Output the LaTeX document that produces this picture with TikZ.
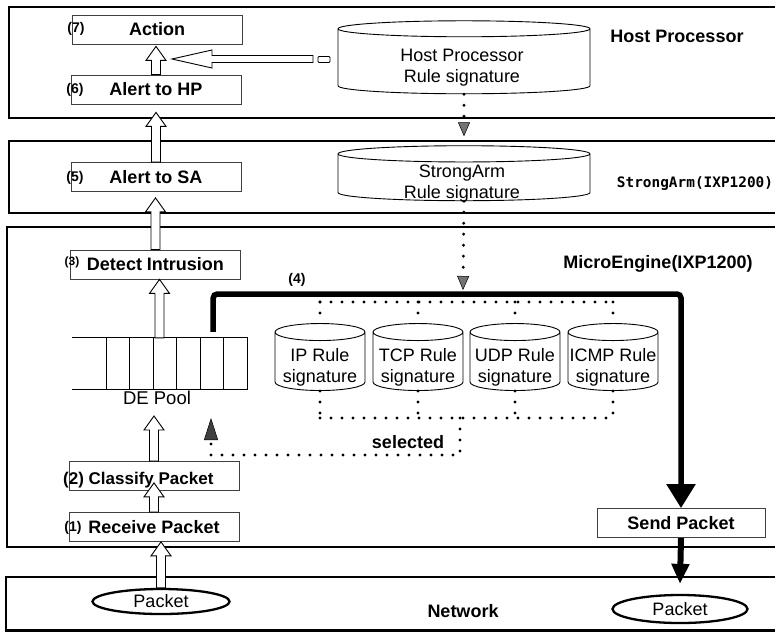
\documentclass[tikz,border=0pt]{standalone}
\usepackage{fontspec}
\setmainfont{Liberation Sans}
\newfontfamily\monob{DejaVu Sans Mono}
\usetikzlibrary{shapes.geometric,arrows.meta,calc,positioning}

% hollow block arrows
\newcommand{\hup}[2]{%
  \draw[line width=0.9pt,fill=white] let \p1=#1, \p2=#2 in
    (\x1-4.5pt,\y1) -- (\x1-4.5pt,\y2-14pt) -- (\x1-10pt,\y2-14pt) -- (\x1,\y2)
    -- (\x1+10pt,\y2-14pt) -- (\x1+4.5pt,\y2-14pt) -- (\x1+4.5pt,\y1) -- cycle;}
\newcommand{\hleft}[2]{%
  \draw[line width=0.9pt,fill=white] let \p1=#1, \p2=#2 in
    (\x1,\y1-3.5pt) -- (\x2+40pt,\y1-3.5pt) -- (\x2+40pt,\y1-9pt) -- (\x2,\y1)
    -- (\x2+40pt,\y1+9pt) -- (\x2+40pt,\y1+3.5pt) -- (\x1,\y1+3.5pt) -- cycle;}

\begin{document}
\begin{tikzpicture}[x=1pt,y=-1pt,
  panel/.style={line width=2.5pt},
  procbox/.style={draw=black!75,line width=0.8pt,minimum width=170pt,minimum height=29pt,
    inner sep=0pt,font=\fontsize{18}{18}\selectfont\bfseries},
  num/.style={inner sep=0pt,font=\fontsize{14}{14}\selectfont\bfseries},
  lbl/.style={inner sep=0pt,anchor=base,font=\fontsize{18}{18}\selectfont\bfseries},
  db/.style={cylinder,shape border rotate=90,draw,line width=0.9pt,inner sep=0pt,
    font=\fontsize{18}{21}\selectfont},
  dbtxt/.style={inner sep=0pt,align=center,font=\fontsize{18}{21}\selectfont},
  pkt/.style={ellipse,draw,line width=2.3pt,inner sep=0pt,font=\fontsize{18}{18}\selectfont},
  dotline/.style={line width=3.2pt,dash pattern=on 0pt off 11pt,line cap=round},
  dottip/.style={-{Triangle[length=14pt,width=12pt,line width=0.5pt,fill=black!55]}},
  fat/.style={line width=5.5pt,rounded corners=4pt}]
\useasboundingbox (0,0) rectangle (775,633);
\clip (0,0) rectangle (775,633);

% layers
\draw[panel] (9,7) rectangle (790,118);
\draw[panel] (9,141) rectangle (790,213);
\draw[panel] (7,227) rectangle (790,547);
\draw[panel] (6,577) rectangle (790,630.5);

\node[lbl] (hplbl) at (677,42) {Host Processor};
\node[lbl,font=\fontsize{14.4}{14}\monob\bfseries] (salbl) at (695,187) {StrongArm(IXP1200)};
\node[lbl] (melbl) at (658,268) {MicroEngine(IXP1200)};
\node[lbl] (netlbl) at (463,617) {Network};

% steps
\node[procbox] (action) at (157,29.5) {Action};
\node[num] (n7) at (76,29) {(7)};
\node[procbox] (alerthp) at (156,89.5) {Alert to HP};
\node[num] (n6) at (75,90) {(6)};
\node[procbox] (alertsa) at (156,177) {Alert to SA};
\node[num] (n5) at (75,178) {(5)};
\node[procbox] (detect) at (155.5,264.5) {Detect Intrusion};
\node[num,font=\fontsize{12}{12}\selectfont\bfseries] (n3) at (72,262) {(3)};
\node[procbox] (classify) at (154,476) {};
\node[lbl,anchor=base west,font=\fontsize{17}{17}\selectfont\bfseries] (clstxt) at (63,484) {(2) Classify Packet};
\node[procbox] (receive) at (154,527) {Receive Packet};
\node[num] (n1) at (73,528) {(1)};
\node[procbox,minimum width=168pt] (send) at (681,523) {Send Packet};

% DE pool
\node[minimum width=175pt,minimum height=51pt,inner sep=0pt] (pool) at (159.5,363.5) {};
\draw[line width=1.2pt] (pool.north west) -- (pool.north east) -- (pool.south east) -- (pool.south west);
\foreach \i in {1,...,6}
  \draw[line width=1.2pt] ([xshift=-\i*23.5pt]pool.north east) -- ([xshift=-\i*23.5pt]pool.south east);
\node[inner sep=0pt,font=\fontsize{18.5}{18}\selectfont] (poollbl) at (157,398) {DE Pool};

% rule signatures (phantom text only sets the lid curvature)
\node[db,minimum width=252pt,minimum height=73pt,aspect=0.13] (hpcyl) at (464,61.5) {\phantom{Host Processor}};
\node[dbtxt] (hptxt) at (462,68) {Host Processor\\Rule signature};
\node[db,minimum width=252pt,minimum height=55pt,aspect=0.14] (sacyl) at (464,177.5) {\phantom{Rule signature}};
\node[dbtxt] (satxt) at (462,184) {StrongArm\\Rule signature};
\foreach \n/\t/\x in {ipdb/IP/320,tcpdb/TCP/418,udpdb/UDP/515,icmpdb/ICMP/613} {
  \node[db,minimum width=90pt,minimum height=67pt,aspect=0.23] (\n) at (\x,361.5) {\phantom{signature}};
  \node[dbtxt] (\n txt) at (\x,367) {\t{} Rule\\signature};
}

% packets
\node[pkt,minimum width=137pt,minimum height=25pt] (pktl) at (161,601.5) {Packet};
\node[pkt,minimum width=135pt,minimum height=28pt] (pktr) at (680,609) {Packet};

% rule lookups
\coordinate (bus1) at (463,302);
\coordinate (bus2) at (460,418);
\coordinate (selturn) at (211,455);
\coordinate (seltip) at (211,418);
\draw[dotline,dottip] (hpcyl.south) -- ([yshift=9pt]sacyl.north);
\draw[dotline,dottip] (sacyl.south) -- ([yshift=12pt]bus1);
\draw[dotline] (ipdb.north |- bus1) -- (icmpdb.north |- bus1);
\draw[dotline] (ipdb.south |- bus2) -- (icmpdb.south |- bus2);
\foreach \c in {ipdb,tcpdb,udpdb,icmpdb} {
  \draw[dotline] (\c.north |- bus1) -- (\c.north);
  \draw[dotline] (\c.south) -- (\c.south |- bus2);
}
\draw[dotline,-{Triangle[length=22pt,width=14pt,line width=0.5pt,fill=black!75]}] (bus2) |- (selturn) -- (seltip);
\node[lbl] (sellbl) at (408,448) {selected};

% forwarding path
\coordinate (bendr) at (681,294);
\draw[fat,-{Triangle[length=24pt,width=28pt]}] ([xshift=-34pt,yshift=6pt]pool.north east) |- (bendr) -- (send.north);
\node[num] (n4) at (297,280) {(4)};
\draw[line width=6pt,-{Triangle[length=20pt,width=17pt]}] (send.south) -- ([yshift=10pt]pktr.north);

% processing flow
\hup{(pktl.north)}{(receive.south)}
\hup{(receive.north)}{([yshift=8pt]classify.south)}
\hup{(classify.north)}{([yshift=-11pt]poollbl.south)}
\hup{(pool.north)}{(detect.south)}
\hup{(detect.north)}{([yshift=-6pt]alertsa.south)}
\hup{(alertsa.north)}{([yshift=-8pt]alerthp.south)}
\hup{(alerthp.north)}{([yshift=-2pt]action.south)}
\coordinate (hptail) at (313,59);
\coordinate (hptip) at (172,59);
\hleft{(hptail)}{(hptip)}
\draw[line width=0.9pt,rounded corners=1pt] (318,56.5) rectangle (330,62.5);
\end{tikzpicture}
\end{document}
